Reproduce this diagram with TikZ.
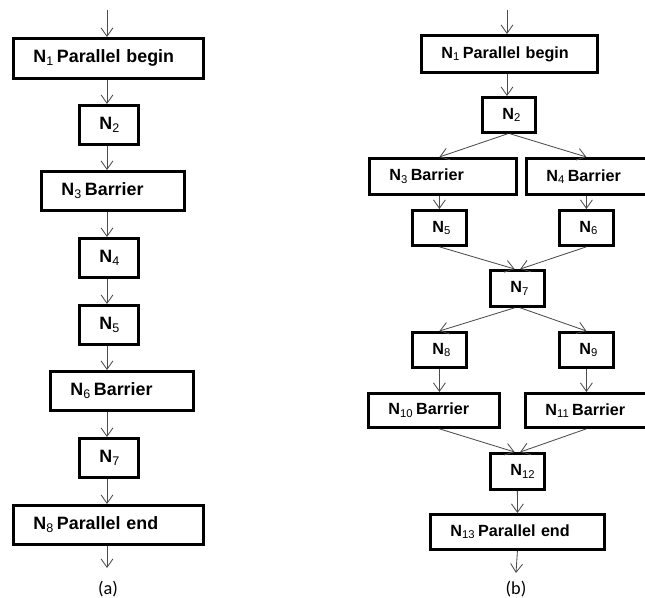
\documentclass[tikz,border=0pt]{standalone}
\usepackage{fontspec}
\setmainfont{Liberation Sans}
\newfontfamily\capfont{Carlito}
\usetikzlibrary{arrows.meta}
\tikzset{% This is the style settings for boxes and arrows
    box/.style={draw, line width=2pt, anchor=north west, align=left,
        inner xsep=0.5cm, inner ysep=0pt, font=\bfseries\fontsize{12.7}{14}\selectfont},
    sbox/.style={box, font=\bfseries\fontsize{11.5}{13}\selectfont},
    e/.style={-{Straight Barb[length=6pt,width=8.5pt]}, draw=black!70, line width=0.6pt}}
\newcommand{\Nn}[1]{N\textsubscript{\mdseries #1}}

\begin{document}
\begin{tikzpicture}[x=0.025cm, y=-0.025cm]
    \clip (0,0) rectangle (645,598);
    % (a)
    \node[box, text width=3.75cm, minimum height=1cm] (a1) at (12,37) {\Nn{1}\,Parallel begin};
    \node[box, text width=0.475cm, minimum height=0.975cm] (a2) at (78,104) {\Nn{2}};
    \node[box, text width=2.575cm, minimum height=0.975cm] (a3) at (40,170) {\Nn{3}\,Barrier};
    \node[box, text width=0.475cm, minimum height=0.975cm] (a4) at (78,237) {\Nn{4}};
    \node[box, text width=0.475cm, minimum height=0.975cm] (a5) at (78,304) {\Nn{5}};
    \node[box, text width=2.575cm, minimum height=0.975cm] (a6) at (49,370) {\Nn{6}\,Barrier};
    \node[box, text width=0.475cm, minimum height=0.975cm] (a7) at (78,437) {\Nn{7}};
    \node[box, text width=3.75cm, minimum height=0.975cm] (a8) at (12,504) {\Nn{8}\,Parallel end};
    \coordinate (ain) at (107,10);
    \coordinate (aout) at (107,568);
    \node[font=\capfont\fontsize{13}{15}\selectfont] (la) at (108,589) {(a)};

    \draw[e] (ain) -- (a1.north -| ain);
    \draw[e] (a1.south -| ain) -- (a2.north -| ain);
    \draw[e] (a2.south -| ain) -- (a3.north -| ain);
    \draw[e] (a3.south -| ain) -- (a4.north -| ain);
    \draw[e] (a4.south -| ain) -- (a5.north -| ain);
    \draw[e] (a5.south -| ain) -- (a6.north -| ain);
    \draw[e] (a6.south -| ain) -- (a7.north -| ain);
    \draw[e] (a7.south -| ain) -- (a8.north -| ain);
    \draw[e] (a8.south -| ain) -- (aout);

    % (b)
    \node[sbox, text width=3.4cm, minimum height=0.925cm] (b1) at (420,34) {\Nn{1}\,Parallel begin};
    \node[sbox, text width=0.325cm, minimum height=0.875cm] (b2) at (481,96) {\Nn{2}};
    \node[sbox, text width=2.675cm, minimum height=0.9cm] (b3) at (368,157) {\Nn{3}\,Barrier};
    \node[sbox, text width=2.675cm, minimum height=0.9cm] (b4) at (525,157) {\Nn{4}\,Barrier};
    \node[sbox, text width=0.35cm, minimum height=0.875cm] (b5) at (411,209) {\Nn{5}};
    \node[sbox, text width=0.35cm, minimum height=0.875cm] (b6) at (558,209) {\Nn{6}};
    \node[sbox, text width=0.35cm, minimum height=0.9cm] (b7) at (489,269) {\Nn{7}};
    \node[sbox, text width=0.35cm, minimum height=0.875cm] (b8) at (411,331) {\Nn{8}};
    \node[sbox, text width=0.35cm, minimum height=0.875cm] (b9) at (558,331) {\Nn{9}};
    \node[sbox, text width=2.275cm, minimum height=0.85cm] (b10) at (367,392) {\Nn{10}\,Barrier};
    \node[sbox, text width=2.275cm, minimum height=0.85cm] (b11) at (524,392) {\Nn{11}\,Barrier};
    \node[sbox, text width=0.35cm, minimum height=0.9cm] (b12) at (489,452) {\Nn{12}};
    \node[sbox, text width=3.35cm, minimum height=0.875cm] (b13) at (429,513) {\Nn{13}\,Parallel end};
    \coordinate (bin) at (507,10);
    \coordinate (bout) at (516,573);
    \node[font=\capfont\fontsize{13}{15}\selectfont] (lb) at (516,589) {(b)};

    \draw[e] (bin) -- (b1.north -| bin);
    \draw[e] (b1.south -| bin) -- (b2.north -| bin);
    \draw[e] ([xshift=-1pt]b2.south) -- (b5.north |- b3.north);
    \draw[e] ([xshift=1pt]b2.south) -- (b6.north |- b4.north);
    \draw[e] (b3.south -| b5.north) -- (b5.north);
    \draw[e] (b4.south -| b6.north) -- (b6.north);
    \draw[e] (b5.south) -- ([xshift=-2pt]b7.north);
    \draw[e] (b6.south) -- ([xshift=2pt]b7.north);
    \draw[e] ([xshift=-2pt]b7.south) -- (b8.north);
    \draw[e] ([xshift=2pt]b7.south) -- (b9.north);
    \draw[e] (b8.south) -- (b10.north -| b8.south);
    \draw[e] (b9.south) -- (b11.north -| b9.south);
    \draw[e] (b10.south -| b8.south) -- ([xshift=-2pt]b12.north);
    \draw[e] (b11.south -| b9.south) -- ([xshift=2pt]b12.north);
    \draw[e] (b12.south) -- (b13.north);
    \draw[e] (b13.south) -- (bout);
\end{tikzpicture}
\end{document}
